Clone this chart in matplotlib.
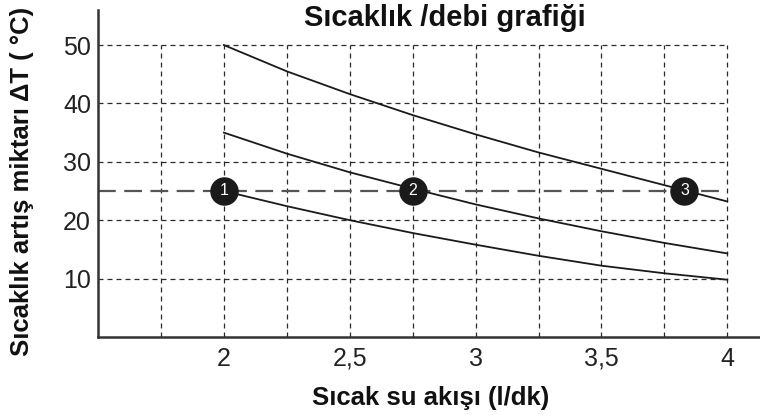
import numpy as np
import matplotlib
matplotlib.use("Agg")
import matplotlib.pyplot as plt

plt.rcParams['font.family'] = ['Liberation Sans', 'DejaVu Sans']

# debi (l/dk) noktaları ve eğriler
flow = [2.0, 2.25, 2.5, 2.75, 3.0, 3.25, 3.5, 3.75, 4.0]
curve_top = [50.0, 45.5, 41.6, 38.0, 34.7, 31.6, 28.8, 26.0, 23.2]
curve_mid = [35.0, 31.4, 28.2, 25.4, 22.7, 20.3, 18.1, 16.1, 14.3]
curve_bot = [25.0, 22.4, 20.0, 17.8, 15.8, 13.9, 12.2, 10.9, 9.8]

marker_x = [2.0, 2.75, 3.83]
marker_y = [25, 25, 25]
marker_lbl = ['1', '2', '3']

ref_dT = 25
xticks = [2, 2.5, 3, 3.5, 4]
xtick_lbl = ['2', '2,5', '3', '3,5', '4']
yticks = [10, 20, 30, 40, 50]
grid_x = [1.75, 2.0, 2.25, 2.5, 2.75, 3.0, 3.25, 3.5, 3.75, 4.0]

fig = plt.figure(figsize=(7.6, 4.18), dpi=100)
ax = fig.add_axes([0.129, 0.194, 0.871, 0.782])
ax.set_xlim(1.5, 4.13)
ax.set_ylim(0, 56)

# grid (only inside 1.5-4 / 0-50)
ax.vlines(grid_x, 0, 50, colors='#2a2a2a', linestyles=(0, (4, 3.2)), linewidth=0.9)
ax.hlines(yticks, 1.5, 4.0, colors='#2a2a2a', linestyles=(0, (4, 3.2)), linewidth=0.9)

ax.hlines(ref_dT, 1.5, 4.0, colors='#555555', linestyles=(0, (8, 3.8)), linewidth=1.6)

for yy in [curve_top, curve_mid, curve_bot]:
    ax.plot(flow, yy, color='#1a1a1a', linewidth=1.3)

ax.scatter(marker_x, marker_y, s=380, color='#1a1a1a', zorder=5)
for mx, my, lb in zip(marker_x, marker_y, marker_lbl):
    ax.text(mx, my, lb, color='white', fontsize=11.5, ha='center', va='center', zorder=6)

for s in ['top', 'right']:
    ax.spines[s].set_visible(False)
for s in ['left', 'bottom']:
    ax.spines[s].set_linewidth(1.8)
    ax.spines[s].set_color('#333333')

ax.set_xticks(xticks)
ax.set_xticklabels(xtick_lbl)
ax.set_yticks(yticks)
ax.tick_params(axis='both', length=0, labelsize=18, colors='#222222')
ax.tick_params(axis='x', pad=7)
ax.tick_params(axis='y', pad=5)

fig.text(0.586, 0.958, 'Sıcaklık /debi grafiği', fontsize=21, fontweight='bold',
         ha='center', va='center', color='#111111')
fig.text(0.566, 0.048, 'Sıcak su akışı (l/dk)', fontsize=18.5, fontweight='bold',
         ha='center', va='center', color='#111111')
fig.text(0.029, 0.565, 'Sıcaklık artış miktarı ΔT ( °C)', fontsize=18.5, fontweight='bold',
         rotation=90, ha='center', va='center', color='#111111')

fig.savefig('out.png', dpi=100)
